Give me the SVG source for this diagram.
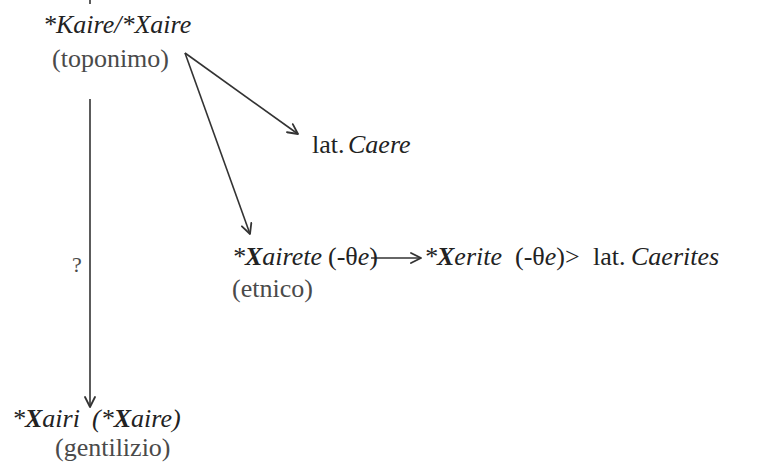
<svg xmlns="http://www.w3.org/2000/svg" width="774" height="474" viewBox="0 0 774 474">
<defs>
<marker id="ah" viewBox="0 0 12 12" refX="11" refY="6" markerWidth="12" markerHeight="12" markerUnits="userSpaceOnUse" orient="auto">
<path d="M1,1 L11,6 L1,11" fill="none" stroke="#333" stroke-width="1.8" stroke-linecap="round" stroke-linejoin="round"/>
</marker>
</defs>
<rect width="774" height="474" fill="#fff"/>
<g id="connectors" stroke="#333" stroke-width="1.6" fill="none">
<line x1="90" y1="0" x2="90" y2="4"/>
<line x1="185" y1="53" x2="298" y2="134" marker-end="url(#ah)"/>
<line x1="185" y1="53" x2="250" y2="234" marker-end="url(#ah)"/>
<line x1="90" y1="99" x2="90" y2="407" marker-end="url(#ah)"/>
<line x1="371" y1="258" x2="421" y2="258" marker-end="url(#ah)"/>
</g>
<g id="toponimo">
<text font-family="Times New Roman" font-size="26" fill="#222" font-style="italic" x="43" y="33">*Kaire/*Xaire</text>
<text font-family="Times New Roman" font-size="26" fill="#4a4a4a" x="52" y="67">(toponimo)</text>
</g>
<g id="caere">
<text font-family="Times New Roman" font-size="26" fill="#222" x="312" y="153">lat.<tspan x="348" font-style="italic">Caere</tspan></text>
</g>
<g id="etnico">
<text font-family="Times New Roman" font-size="26" fill="#222" x="232" y="265"><tspan font-style="italic">*<tspan font-weight="bold">X</tspan>airete</tspan><tspan x="328">(-θ<tspan font-style="italic">e</tspan>)</tspan></text>
<text font-family="Times New Roman" font-size="26" fill="#4a4a4a" x="232" y="297">(etnico)</text>
</g>
<g id="xerite">
<text font-family="Times New Roman" font-size="26" fill="#222" x="424" y="265"><tspan font-style="italic">*<tspan font-weight="bold">X</tspan>erite</tspan><tspan x="515">(-θ<tspan font-style="italic">e</tspan>)</tspan><tspan x="565">&gt;</tspan><tspan x="593">lat.</tspan><tspan x="631" font-style="italic">Caerites</tspan></text>
</g>
<g id="question">
<text font-family="Times New Roman" font-size="22" fill="#4a4a4a" x="72" y="272">?</text>
</g>
<g id="gentilizio">
<text font-family="Times New Roman" font-size="26" fill="#222" font-style="italic" x="12" y="427">*<tspan font-weight="bold">X</tspan>airi<tspan x="92">(*<tspan font-weight="bold">X</tspan>aire)</tspan></text>
<text font-family="Times New Roman" font-size="26" fill="#4a4a4a" x="55" y="456">(gentilizio)</text>
</g>
</svg>
